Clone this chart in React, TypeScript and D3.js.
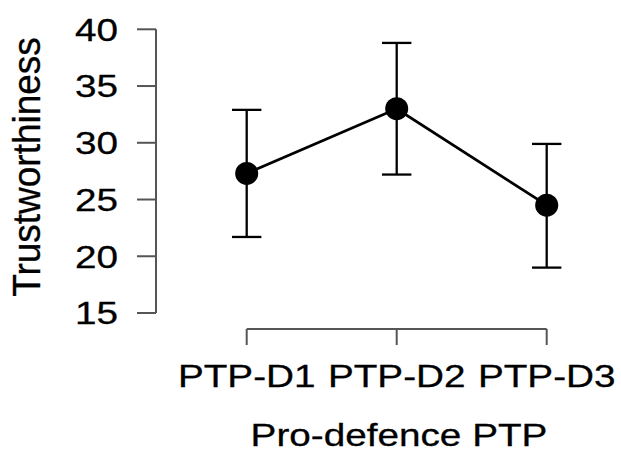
import * as d3 from 'd3';

const categories = ['PTP-D1', 'PTP-D2', 'PTP-D3'];
const means = [27.3, 33.0, 24.5];
const upper = [32.9, 38.8, 29.9];
const lower = [21.7, 27.2, 19.0];
const yTicks = [15, 20, 25, 30, 35, 40];

const W = 621;
const H = 454;
const FONT = '"Liberation Sans", Arial, sans-serif';
const AXIS = '#555';
const SX = 1.21; // reference text is stretched horizontally

export default function App() {
  const x = d3.scalePoint<string>().domain(categories).range([246.7, 546.7]);
  const y = d3.scaleLinear().domain([15, 40]).range([313, 29.3]);

  const line = d3.line<number>()
    .x((_, i) => x(categories[i]) as number)
    .y(d => y(d));

  const capHalf = 14.7;
  const textProps = { fontFamily: FONT, fill: '#000', stroke: '#000', strokeWidth: 0.3 };

  return (
    <svg width={W} height={H} style={{ position: 'absolute', left: 0, top: 0, background: '#fff' }}>
      {/* y axis */}
      <g stroke={AXIS} strokeWidth={2} fill="none">
        <line x1={156} x2={156} y1={y(15)} y2={y(40)} />
        {yTicks.map(t => (
          <line key={t} x1={137} x2={156} y1={y(t)} y2={y(t)} />
        ))}
      </g>
      {yTicks.map(t => (
        <text
          key={t}
          transform={`translate(118,${y(t) + 11.3}) scale(${SX},1)`}
          textAnchor="end"
          fontSize={32}
          {...textProps}
        >
          {t}
        </text>
      ))}
      <text
        transform={`translate(40,167) rotate(-90) scale(1,1.05)`}
        textAnchor="middle"
        fontSize={37}
        {...textProps}
      >
        Trustworthiness
      </text>

      {/* x axis */}
      <g stroke={AXIS} strokeWidth={2} fill="none">
        <line x1={x(categories[0])} x2={x(categories[2])} y1={329} y2={329} />
        {categories.map(c => (
          <line key={c} x1={x(c)} x2={x(c)} y1={329} y2={345} />
        ))}
      </g>
      {categories.map(c => (
        <text
          key={c}
          transform={`translate(${x(c)},387) scale(${SX},1)`}
          textAnchor="middle"
          fontSize={32}
          {...textProps}
        >
          {c}
        </text>
      ))}
      <text
        transform={`translate(399,446) scale(${SX},1)`}
        textAnchor="middle"
        fontSize={32}
        {...textProps}
      >
        Pro-defence PTP
      </text>

      {/* error bars */}
      <g stroke="#000" strokeWidth={2.3} fill="none">
        {categories.map((c, i) => {
          const cx = x(c) as number;
          return (
            <g key={c}>
              <line x1={cx} x2={cx} y1={y(upper[i])} y2={y(lower[i])} />
              <line x1={cx - capHalf} x2={cx + capHalf} y1={y(upper[i])} y2={y(upper[i])} />
              <line x1={cx - capHalf} x2={cx + capHalf} y1={y(lower[i])} y2={y(lower[i])} />
            </g>
          );
        })}
      </g>

      {/* mean line and points */}
      <path d={line(means) ?? ''} fill="none" stroke="#000" strokeWidth={2.8} />
      {categories.map((c, i) => (
        <circle key={c} cx={x(c)} cy={y(means[i])} r={11.5} fill="#000" />
      ))}
    </svg>
  );
}
